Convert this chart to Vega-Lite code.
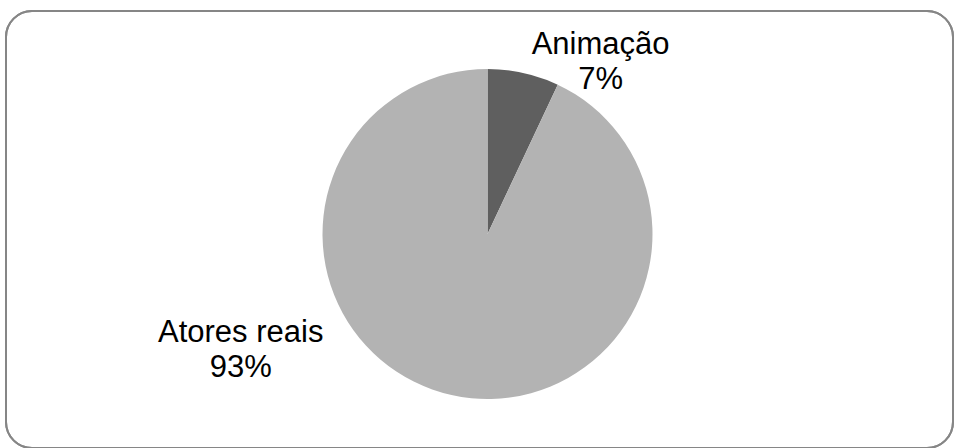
{
  "$schema": "https://vega.github.io/schema/vega-lite/v6.json",
  "autosize": {"type": "none"},
  "padding": {"left": 6, "top": 11, "right": 1, "bottom": 0},
  "width": 947,
  "height": 437,
  "background": "white",
  "config": {
    "view": {"stroke": null},
    "font": "Liberation Sans"
  },
  "data": {
    "values": [
      {"categoria": "Animação", "valor": 7},
      {"categoria": "Atores reais", "valor": 93}
    ]
  },
  "layer": [
    {
      "mark": {"type": "rect", "fill": null, "stroke": "#868686", "strokeWidth": 2, "cornerRadius": 26},
      "encoding": {
        "x": {"value": 0},
        "x2": {"value": "width"},
        "y": {"value": 0},
        "y2": {"value": "height"}
      }
    },
    {
      "mark": {"type": "arc", "radius": 165, "xOffset": 8, "yOffset": 4.5},
      "encoding": {
        "theta": {"field": "valor", "type": "quantitative", "stack": true},
        "order": {"field": "categoria", "sort": "ascending"},
        "color": {
          "field": "categoria",
          "type": "nominal",
          "scale": {"domain": ["Animação", "Atores reais"], "range": ["#5f5f5f", "#b3b3b3"]},
          "legend": null
        }
      }
    },
    {
      "transform": [
        {"filter": "datum.categoria === 'Animação'"},
        {"calculate": "[datum.categoria, datum.valor + '%']", "as": "rotulo"}
      ],
      "mark": {"type": "text", "theta": 0.54, "radius": 220, "xOffset": 8, "yOffset": 4.5, "fontSize": 31, "lineHeight": 35, "baseline": "middle", "align": "center", "color": "#000000"},
      "encoding": {"text": {"field": "rotulo"}}
    },
    {
      "transform": [
        {"filter": "datum.categoria === 'Atores reais'"},
        {"calculate": "[datum.categoria, datum.valor + '%']", "as": "rotulo"}
      ],
      "mark": {"type": "text", "theta": 4.33, "radius": 266, "xOffset": 8, "yOffset": 4.5, "fontSize": 31, "lineHeight": 35, "baseline": "middle", "align": "center", "color": "#000000"},
      "encoding": {"text": {"field": "rotulo"}}
    }
  ]
}
